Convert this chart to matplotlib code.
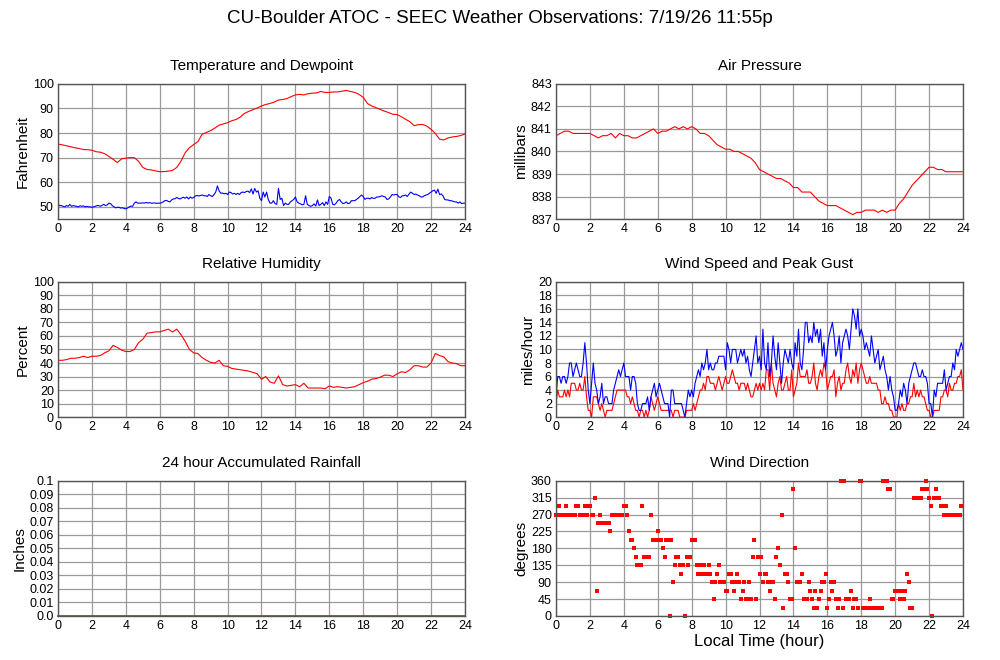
import numpy as np
import matplotlib
matplotlib.use('Agg')
import matplotlib.pyplot as plt

plt.rcParams['font.family'] = ['Liberation Sans', 'DejaVu Sans']

title = "CU-Boulder ATOC - SEEC Weather Observations: 7/19/26 11:55p"

# smooth series, every 15 minutes (0 .. 24 h)
temperature = [75.5, 75.2, 74.8, 74.4, 74.0, 73.7, 73.3, 73.2, 73.0, 72.4, 72.2, 71.6,
               70.5, 69.3, 68.0, 69.5, 69.8, 70.0, 70.0, 68.5, 66.0, 65.2, 65.0, 64.6,
               64.3, 64.3, 64.5, 64.8, 66.0, 68.5, 72.0, 74.0, 75.3, 76.5, 79.5, 80.2,
               81.0, 82.0, 83.2, 83.7, 84.2, 85.0, 85.5, 86.5, 88.0, 88.8, 89.5, 90.2,
               91.0, 91.6, 92.0, 92.6, 93.4, 93.6, 94.0, 94.8, 95.5, 95.7, 95.5, 96.0,
               96.2, 96.3, 96.9, 96.5, 96.5, 96.7, 96.7, 97.0, 97.3, 96.9, 96.5, 95.7,
               94.5, 92.0, 91.0, 90.3, 89.6, 88.9, 88.3, 87.6, 87.5, 86.6, 85.6, 84.6,
               83.0, 83.4, 83.5, 82.8, 81.5, 79.8, 77.5, 77.2, 78.0, 78.4, 78.6, 79.0,
               79.6]

pressure = [840.7, 840.8, 840.9, 840.9, 840.8, 840.8, 840.8, 840.8, 840.8, 840.7, 840.6, 840.7,
            840.7, 840.8, 840.6, 840.8, 840.7, 840.7, 840.6, 840.6, 840.7, 840.8, 840.9, 841.0,
            840.8, 840.9, 840.9, 841.0, 841.1, 841.0, 841.1, 841.0, 841.1, 841.0, 840.8, 840.8,
            840.7, 840.5, 840.3, 840.2, 840.1, 840.1, 840.0, 840.0, 839.9, 839.8, 839.7, 839.5,
            839.2, 839.1, 839.0, 838.9, 838.8, 838.8, 838.7, 838.6, 838.4, 838.4, 838.2, 838.2,
            838.2, 838.0, 837.8, 837.7, 837.6, 837.6, 837.6, 837.5, 837.4, 837.3, 837.2, 837.3,
            837.3, 837.4, 837.4, 837.4, 837.3, 837.4, 837.3, 837.4, 837.4, 837.7, 837.9, 838.2,
            838.5, 838.7, 838.9, 839.1, 839.3, 839.3, 839.2, 839.2, 839.1, 839.1, 839.1, 839.1,
            839.1]

humidity = [42, 42, 42.5, 43.5, 43.5, 44, 45, 44, 45, 45, 45.5, 47.5,
            49, 53, 51.5, 49.5, 48.5, 48.5, 50, 55, 57.5, 62, 62.5, 63,
            63, 64, 65, 63, 65, 61, 56, 50, 47.5, 47, 44, 42,
            40.5, 40, 42, 38, 37.5, 36, 35.5, 35, 34.5, 34, 33, 32,
            28, 30, 26, 25, 30.5, 24, 23, 23.5, 24, 22.5, 25, 21.5,
            21.5, 21.5, 21.5, 21, 23, 22, 22.5, 22, 21.5, 22, 22.5, 24,
            25.5, 26.5, 28, 28.5, 29.5, 31, 31, 30, 32, 33.5, 33, 35,
            38, 38, 37, 37, 40, 47, 45.5, 44.5, 41, 40, 39.5, 38,
            38]

# noisy series, every 6 minutes (0 .. 24 h)
dewpoint = [51, 50.5, 50.5, 50.2, 50, 50.5, 50.2, 51, 50.2, 50.5,
            50.3, 50.2, 50, 50.4, 50.2, 50.4, 50, 50.2, 50, 50,
            49.8, 50, 50.2, 50.5, 50.5, 50.2, 50.6, 51, 50.5, 50.8,
            51.5, 51.3, 50.5, 50, 49.6, 49.8, 49.8, 49.5, 49.6, 49.3,
            49.2, 49.5, 50, 50.3, 50.2, 51.5, 52, 51.5, 51.5, 51.5,
            51.6, 51.5, 51.8, 51.5, 51.7, 51.5, 51.5, 51.6, 51.4, 51.5,
            51.5, 51.6, 52, 52.5, 52.6, 52.2, 52, 52.8, 53.2, 53.3,
            53.8, 53.4, 53.2, 53.6, 53.9, 53.5, 54, 53.2, 54, 53.5,
            53.8, 54.4, 54.6, 54.4, 54.6, 54.8, 54.5, 54.5, 54.2, 55,
            54.5, 54.2, 55, 56, 58.5, 56.5, 55.5, 55.6, 55.3, 55.5,
            55, 56, 55.8, 55.2, 55.5, 55, 55.5, 55, 55.8, 56,
            55.8, 56.2, 56.4, 55.8, 57.3, 55.2, 57.5, 56, 56.5, 53.5,
            52.5, 56, 54, 56, 53, 51.5, 51.5, 52.5, 51.3, 51,
            57.5, 53, 53.5, 50.5, 51.5, 51, 51, 52, 52.5, 53,
            54, 52, 51.5, 51.2, 50.8, 51, 54.5, 51, 50.5, 50.2,
            50.5, 51.2, 50.3, 52.8, 50.5, 51, 51.7, 50.5, 52, 51,
            54.2, 53.5, 51, 50.8, 51.5, 52.5, 53, 52, 51.3, 51.5,
            52, 51.3, 51.5, 52.5, 52.5, 52.5, 53, 53.5, 54.2, 54.8,
            54.2, 53, 53.5, 53.5, 53.2, 53.8, 53.4, 53.5, 54, 54,
            54.2, 54.5, 54.2, 54, 53, 53.2, 54, 55, 54.8, 55,
            55, 54, 53.8, 54.5, 54.5, 54.8, 54.2, 55.2, 56, 55.5,
            55, 55.2, 54.8, 54.5, 54, 54, 54.5, 54.8, 55, 55.5,
            56, 56.5, 56.8, 55.5, 57.2, 55, 55.2, 54.5, 53, 52.8,
            52.8, 52.5, 52.5, 52.2, 52, 52, 51.5, 52, 51.3, 51.5,
            51.5]

wind_gust = [3, 6, 6, 5, 6, 6, 5, 6, 8, 8,
             6, 7, 8, 7, 6, 6, 8, 11, 8, 4,
             2, 5, 8, 5, 4, 2, 3, 5, 2, 3,
             3, 2, 2, 2, 4, 5, 6, 7, 6, 7,
             8, 6, 6, 6, 4, 6, 6, 5, 2, 1,
             1, 2, 2, 2, 3, 1, 3, 4, 5, 3,
             4, 5, 4, 3, 2, 2, 2, 0, 4, 4,
             2, 2, 2, 2, 2, 1, 0, 2, 4, 3,
             4, 3, 5, 6, 7, 6, 8, 7, 8, 10,
             7, 8, 7, 7, 8, 8, 9, 9, 9, 9,
             7, 11, 10, 8, 10, 10, 10, 8, 9, 10,
             9, 10, 8, 9, 7, 6, 8, 10, 12, 8,
             9, 7, 13, 8, 7, 11, 6, 8, 12, 9,
             7, 11, 8, 5, 8, 10, 9, 8, 10, 8,
             7, 11, 9, 13, 8, 7, 10, 14, 14, 11,
             12, 11, 14, 12, 13, 11, 13, 9, 11, 7,
             10, 12, 13, 14, 12, 9, 10, 12, 8, 11,
             12, 13, 12, 10, 13, 16, 15, 13, 16, 12,
             13, 12, 10, 11, 10, 9, 12, 10, 8, 9,
             10, 7, 8, 9, 7, 6, 4, 6, 4, 3,
             1, 1, 2, 4, 3, 5, 4, 2, 5, 6,
             7, 8, 8, 7, 6, 6, 7, 6, 6, 5,
             2, 2, 0, 4, 3, 5, 5, 5, 5, 7,
             4, 5, 6, 6, 8, 7, 10, 9, 10, 11,
             10]

wind_speed = [2, 4, 3, 3, 3, 4, 3, 4, 3, 5,
              5, 5, 4, 4, 5, 4, 4, 6, 3, 1,
              1, 0, 3, 3, 3, 2, 1, 2, 1, 0,
              1, 1, 1, 1, 2, 3, 4, 4, 4, 4,
              4, 4, 3, 3, 2, 3, 2, 1, 1, 0,
              1, 1, 0, 1, 0, 1, 3, 2, 1, 2,
              3, 2, 1, 1, 1, 1, 1, 1, 1, 0,
              1, 1, 1, 0, 0, 0, 0, 1, 1, 1,
              1, 2, 1, 2, 3, 4, 4, 5, 4, 6,
              6, 5, 5, 5, 4, 5, 6, 5, 4, 5,
              6, 5, 5, 6, 7, 6, 5, 5, 4, 5,
              5, 5, 4, 5, 4, 3, 3, 4, 5, 4,
              5, 4, 5, 4, 7, 7, 4, 8, 5, 4,
              3, 5, 6, 4, 4, 5, 6, 4, 4, 7,
              3, 4, 5, 8, 6, 6, 6, 6, 7, 5,
              5, 6, 8, 5, 4, 6, 7, 6, 8, 7,
              4, 5, 6, 6, 7, 3, 5, 6, 4, 5,
              5, 7, 8, 6, 5, 7, 6, 8, 5, 7,
              8, 7, 6, 5, 5, 6, 5, 5, 5, 5,
              4, 4, 2, 2, 3, 2, 2, 1, 1, 0,
              0, 0, 2, 1, 2, 1, 1, 2, 2, 3,
              3, 5, 3, 4, 3, 4, 3, 3, 2, 1,
              1, 0, 0, 1, 1, 1, 1, 3, 3, 4,
              4, 3, 5, 4, 4, 5, 5, 6, 6, 7,
              4]

# wind direction, every 6 minutes (0 .. 23.9 h)
wind_dir = [270, 270, 292.5, 270, 270, 270, 292.5, 270, 270, 270,
            270, 270, 292.5, 292.5, 270, 270, 270, 292.5, 270, 292.5,
            292.5, 270, 270, 315, 67.5, 247.5, 270, 247.5, 247.5, 247.5,
            247.5, 247.5, 225, 270, 270, 270, 270, 270, 270, 270,
            292.5, 292.5, 270, 225, 202.5, 202.5, 180, 157.5, 135, 135,
            135, 292.5, 157.5, 157.5, 157.5, 157.5, 270, 202.5, 202.5, 202.5,
            225, 202.5, 202.5, 180, 157.5, 202.5, 202.5, 0, 202.5, 90,
            135, 157.5, 157.5, 135, 112.5, 135, 0, 157.5, 135, 157.5,
            202.5, 202.5, 202.5, 135, 112.5, 135, 112.5, 135, 112.5, 112.5,
            135, 112.5, 90, 45, 90, 112.5, 135, 90, 90, 90,
            67.5, 67.5, 112.5, 112.5, 90, 67.5, 90, 112.5, 90, 45,
            67.5, 90, 45, 45, 90, 45, 157.5, 202.5, 45, 157.5,
            112.5, 157.5, 90, 112.5, 112.5, 90, 67.5, 90, 90, 45,
            157.5, 180, 135, 270, 22.5, 112.5, 112.5, 90, 45, 45,
            337.5, 180, 90, 90, 90, 112.5, 45, 45, 45, 90,
            67.5, 45, 22.5, 67.5, 22.5, 45, 67.5, 90, 90, 112.5,
            22.5, 45, 90, 67.5, 90, 45, 22.5, 45, 360, 22.5,
            360, 45, 45, 45, 67.5, 22.5, 45, 45, 22.5, 360,
            360, 22.5, 22.5, 22.5, 22.5, 45, 22.5, 22.5, 22.5, 22.5,
            22.5, 22.5, 22.5, 360, 360, 360, 337.5, 337.5, 45, 45,
            67.5, 67.5, 67.5, 45, 67.5, 45, 67.5, 112.5, 90, 22.5,
            22.5, 315, 315, 315, 315, 315, 337.5, 337.5, 360, 337.5,
            315, 292.5, 0, 315, 337.5, 315, 315, 292.5, 292.5, 270,
            292.5, 270, 270, 270, 270, 270, 270, 270, 270, 292.5]

rain_hours = [0, 6, 12, 18, 24]
rainfall = [0.0, 0.0, 0.0, 0.0, 0.0]

t15 = np.arange(len(temperature)) * 0.25
t6 = np.arange(len(dewpoint)) * 0.1
tdir = np.arange(len(wind_dir)) * 0.1

fig = plt.figure(figsize=(10, 6.6), dpi=100)
fig.suptitle(title, fontsize=13.5, y=0.985)

left_x, right_x, w, h = 0.058, 0.556, 0.407, 0.205
rows = [0.668, 0.368, 0.0667]

def setup(ax, name, ylabel, ylim, yticks, ylabels=None):
    ax.set_xlim(0, 24)
    ax.set_xticks(range(0, 25, 2))
    ax.set_ylim(*ylim)
    ax.set_yticks(yticks)
    if ylabels is not None:
        ax.set_yticklabels(ylabels)
    ax.grid(True, color='#9a9a9a', lw=0.9)
    ax.set_axisbelow(True)
    ax.tick_params(length=0, labelsize=9, pad=3)
    for s in ax.spines.values():
        s.set_color('#555555')
        s.set_linewidth(1)
    ax.set_title(name, fontsize=11, pad=10)
    ax.set_ylabel(ylabel, fontsize=11, labelpad=2)

ax1 = fig.add_axes([left_x, rows[0], w, h])
ax1.plot(t15, temperature, color='red', lw=0.8)
ax1.plot(t6, dewpoint, color='blue', lw=0.8)
setup(ax1, 'Temperature and Dewpoint', 'Fahrenheit', (45, 100), range(50, 101, 10))

ax2 = fig.add_axes([right_x, rows[0], w, h])
ax2.plot(t15, pressure, color='red', lw=0.8)
setup(ax2, 'Air Pressure', 'millibars', (837, 843), range(837, 844))

ax3 = fig.add_axes([left_x, rows[1], w, h])
ax3.plot(t15, humidity, color='red', lw=0.8)
setup(ax3, 'Relative Humidity', 'Percent', (0, 100), range(0, 101, 10))

ax4 = fig.add_axes([right_x, rows[1], w, h])
ax4.plot(t6, wind_speed, color='red', lw=0.8)
ax4.plot(t6, wind_gust, color='blue', lw=0.8)
setup(ax4, 'Wind Speed and Peak Gust', 'miles/hour', (0, 20), range(0, 21, 2))

ax5 = fig.add_axes([left_x, rows[2], w, h])
ax5.plot(rain_hours, rainfall, color='#cc2222', lw=1.2, clip_on=False)
rticks = np.round(np.arange(0, 0.101, 0.01), 2)
rlabels = ['0.0'] + ['%g' % v for v in rticks[1:]]
setup(ax5, '24 hour Accumulated Rainfall', 'Inches', (0, 0.1), rticks, rlabels)

ax6 = fig.add_axes([right_x, rows[2], w, h])
ax6.plot(tdir, wind_dir, 's', color='red', ms=2.2, mew=0, clip_on=False)
setup(ax6, 'Wind Direction', 'degrees', (0, 360), range(0, 361, 45))
ax6.set_xlabel('Local Time (hour)', fontsize=12, labelpad=1)

fig.savefig('out.png', dpi=100)
